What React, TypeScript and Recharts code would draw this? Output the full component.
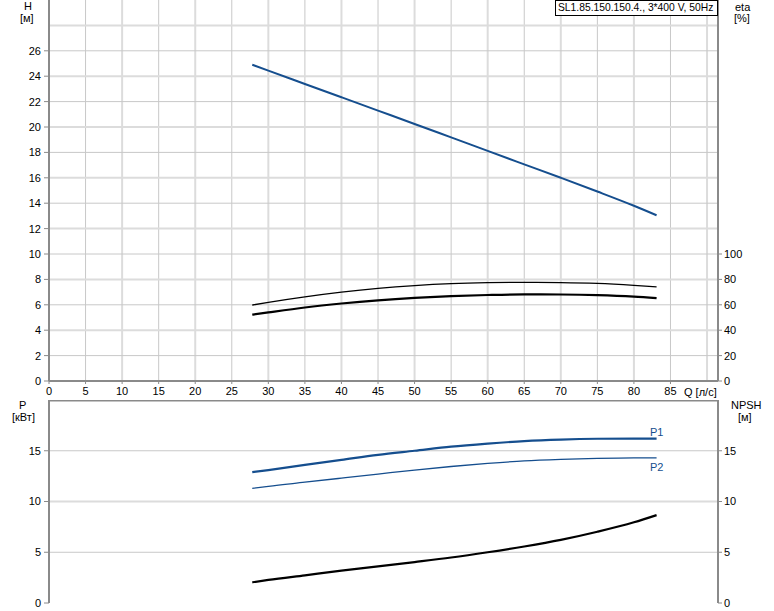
import React from 'react';
import {
  LineChart,
  Line,
  XAxis,
  YAxis,
  CartesianGrid,
  ReferenceLine,
} from 'recharts';

// расход, л/с
const flow = [27.8, 30, 35, 40, 45, 50, 55, 60, 65, 70, 75, 80, 83.1];
// напор H, м
const head = [24.9, 24.44, 23.39, 22.34, 21.29, 20.24, 19.18, 18.12, 17.06, 16.0, 14.92, 13.8, 13.05];
// КПД, %
const etaPump = [59.8, 61.9, 66.2, 69.9, 72.9, 75.1, 76.6, 77.4, 77.7, 77.5, 76.8, 75.3, 74.1];
const etaTotal = [52.2, 54.0, 57.9, 61.0, 63.5, 65.4, 66.8, 67.7, 68.2, 68.1, 67.6, 66.4, 65.2];
// мощность, кВт
const powerP1 = [12.9, 13.1, 13.6, 14.1, 14.6, 15.0, 15.4, 15.7, 15.95, 16.1, 16.18, 16.2, 16.2];
const powerP2 = [11.3, 11.5, 11.9, 12.3, 12.7, 13.1, 13.45, 13.75, 14.0, 14.15, 14.25, 14.3, 14.3];
// NPSH, м
const npsh = [2.04, 2.27, 2.73, 3.19, 3.6, 4.03, 4.48, 5.0, 5.57, 6.22, 7.02, 7.95, 8.66];

const qTicks = [0, 5, 10, 15, 20, 25, 30, 35, 40, 45, 50, 55, 60, 65, 70, 75, 80, 85];
const hTicks = [0, 2, 4, 6, 8, 10, 12, 14, 16, 18, 20, 22, 24, 26];
const etaTicks = [0, 20, 40, 60, 80, 100];
const pTicks = [0, 5, 10, 15];

const data = flow.map((q, i) => ({
  q,
  h: head[i],
  eta1: etaPump[i],
  eta2: etaTotal[i],
  p1: powerP1[i],
  p2: powerP2[i],
  npsh: npsh[i],
}));

const FONT = '"Liberation Sans", Arial, sans-serif';
const AXIS = '#8a8a8a';
const GRID_A = '#c8c8c8';
const GRID_B = '#dcdcdc';
const BLUE = '#154e8e';
const tickStyle = { fontSize: 11, fill: '#000', fontFamily: FONT };
const qGridOdd = [5, 15, 25, 35, 45, 55, 65, 75, 85];
const qGridEven = [10, 20, 30, 40, 50, 60, 70, 80, 90];

const txt = (left: number, top: number, s: string, extra: React.CSSProperties = {}) => (
  <div
    style={{
      position: 'absolute',
      left,
      top,
      fontSize: 11,
      fontFamily: FONT,
      whiteSpace: 'nowrap',
      lineHeight: '12px',
      ...extra,
    }}
  >
    {s}
  </div>
);

export default function App() {
  return (
    <div style={{ position: 'relative', width: 774, height: 611, background: '#fff', fontFamily: FONT }}>
      <style>{'body{margin:0}'}</style>

      <div style={{ position: 'absolute', left: 0, top: 0 }}>
        <LineChart width={774} height={400} data={data} margin={{ top: 0, right: 0, bottom: 0, left: 0 }}>
          <CartesianGrid yAxisId="h" horizontal={false} verticalValues={qGridOdd} stroke={GRID_A} />
          <CartesianGrid yAxisId="h" horizontal={false} verticalValues={qGridEven} stroke={GRID_B} strokeWidth={2} />
          <CartesianGrid yAxisId="h" vertical={false} horizontalValues={[2, 6, 10, 14, 18, 22, 26]} stroke={GRID_A} />
          <CartesianGrid yAxisId="h" vertical={false} horizontalValues={[4, 8, 12, 16, 20, 24, 28]} stroke={GRID_B} strokeWidth={2} />
          <XAxis
            dataKey="q"
            type="number"
            domain={[0, 91.5]}
            ticks={qTicks}
            allowDataOverflow
            height={19}
            tick={tickStyle}
            tickSize={3}
            tickMargin={3}
            tickLine={{ stroke: AXIS }}
            axisLine={{ stroke: AXIS, strokeWidth: 2 }}
            interval={0}
          />
          <YAxis
            yAxisId="h"
            domain={[0, 30]}
            ticks={hTicks}
            width={49}
            tick={tickStyle}
            tickSize={5}
            tickMargin={3}
            tickLine={{ stroke: AXIS }}
            axisLine={{ stroke: AXIS, strokeWidth: 2 }}
            interval={0}
          />
          <YAxis
            yAxisId="eta"
            orientation="right"
            domain={[0, 300]}
            ticks={etaTicks}
            width={56}
            tick={tickStyle}
            tickSize={4}
            tickMargin={2}
            tickLine={{ stroke: AXIS }}
            axisLine={{ stroke: AXIS, strokeWidth: 2 }}
            interval={0}
          />
          <Line yAxisId="h" dataKey="h" type="monotone" stroke={BLUE} strokeWidth={2} dot={false} isAnimationActive={false} />
          <Line yAxisId="eta" dataKey="eta1" type="monotone" stroke="#000" strokeWidth={1.3} dot={false} isAnimationActive={false} />
          <Line yAxisId="eta" dataKey="eta2" type="monotone" stroke="#000" strokeWidth={2.2} dot={false} isAnimationActive={false} />
        </LineChart>
      </div>

      <div style={{ position: 'absolute', left: 0, top: 400 }}>
        <LineChart width={774} height={211} data={data} margin={{ top: 0, right: 0, bottom: 8, left: 0 }}>
          <CartesianGrid yAxisId="p" horizontal={false} verticalValues={qGridOdd} stroke={GRID_A} />
          <CartesianGrid yAxisId="p" horizontal={false} verticalValues={qGridEven} stroke={GRID_B} strokeWidth={2} />
          <CartesianGrid yAxisId="p" vertical={false} horizontalValues={[5, 15]} stroke={GRID_A} />
          <CartesianGrid yAxisId="p" vertical={false} horizontalValues={[10]} stroke={GRID_B} strokeWidth={2} />
          <XAxis
            dataKey="q"
            type="number"
            domain={[0, 91.5]}
            ticks={qTicks}
            allowDataOverflow
            height={0}
            tick={false}
            tickLine={false}
            axisLine={{ stroke: AXIS, strokeWidth: 2 }}
          />
          <YAxis
            yAxisId="p"
            domain={[0, 20]}
            ticks={pTicks}
            width={49}
            tick={tickStyle}
            tickSize={5}
            tickMargin={3}
            tickLine={{ stroke: AXIS }}
            axisLine={{ stroke: AXIS, strokeWidth: 2 }}
            interval={0}
          />
          <YAxis
            yAxisId="npsh"
            orientation="right"
            domain={[0, 20]}
            ticks={pTicks}
            width={56}
            tick={tickStyle}
            tickSize={4}
            tickMargin={2}
            tickLine={{ stroke: AXIS }}
            axisLine={{ stroke: AXIS, strokeWidth: 2 }}
            interval={0}
          />
          <ReferenceLine yAxisId="p" y={20} stroke={AXIS} strokeWidth={3} />
          <Line yAxisId="p" dataKey="p1" type="monotone" stroke={BLUE} strokeWidth={2.2} dot={false} isAnimationActive={false} />
          <Line yAxisId="p" dataKey="p2" type="monotone" stroke={BLUE} strokeWidth={1.3} dot={false} isAnimationActive={false} />
          <Line yAxisId="npsh" dataKey="npsh" type="monotone" stroke="#000" strokeWidth={2.2} dot={false} isAnimationActive={false} />
        </LineChart>
      </div>

      {txt(24, 0, 'H')}
      {txt(20, 12, '[м]')}
      {txt(735, 1, 'eta')}
      {txt(734, 12, '[%]')}
      {txt(19, 399, 'P')}
      {txt(12, 411, '[кВт]')}
      {txt(731, 399, 'NPSH')}
      {txt(738, 411, '[м]')}
      {txt(684, 386, 'Q [л/с]')}
      {txt(650, 426, 'P1', { color: BLUE })}
      {txt(650, 461, 'P2', { color: BLUE })}
      <div
        style={{
          position: 'absolute',
          left: 555,
          top: 0,
          width: 163,
          height: 16,
          border: '1px solid #000',
          background: '#fff',
          fontSize: 10.3,
          lineHeight: '14px',
          paddingLeft: 2,
          boxSizing: 'border-box',
          whiteSpace: 'nowrap',
          overflow: 'hidden',
        }}
      >
        SL1.85.150.150.4., 3*400 V, 50Hz
      </div>
    </div>
  );
}
